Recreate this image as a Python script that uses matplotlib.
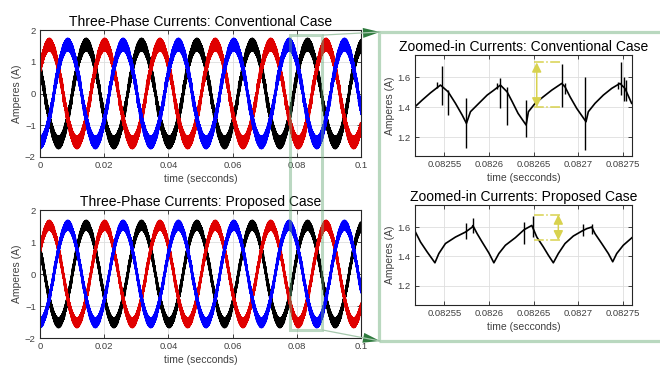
import numpy as np
import matplotlib
matplotlib.use('Agg')
import matplotlib.pyplot as plt
from matplotlib.patches import Rectangle, Polygon
from matplotlib.lines import Line2D
from matplotlib.ticker import FuncFormatter

plt.rcParams['font.family'] = ['Liberation Sans', 'DejaVu Sans']
plt.rcParams['path.simplify'] = False

f_line = 58.0            # Hz, peak spacing ~0.0172 s
t_peak_red = 0.0029      # first red peak
amp_conv = 1.50
amp_prop = 1.50
phase_colors = ['#000000', '#e00000', '#0000ff']
phase_lag = [2, 0, 1]    # thirds of a period behind red

# zoomed-in window, conventional case
conv_t = [0.082517, 0.0825251, 0.0825343, 0.0825455, 0.0825541, 0.0825623, 0.0825698, 0.0825746,
          0.0825791, 0.0825885, 0.0825978, 0.0826053, 0.0826126, 0.0826201, 0.0826257, 0.0826324,
          0.0826414, 0.082644, 0.0826515, 0.0826607, 0.0826701, 0.0826813, 0.082685, 0.0826906,
          0.0826981, 0.0827085, 0.0827111, 0.0827186, 0.0827279, 0.0827373, 0.0827465, 0.0827521,
          0.0827596]
conv_y = [1.404, 1.449, 1.497, 1.549, 1.504, 1.427, 1.349, 1.293,
          1.371, 1.427, 1.482, 1.515, 1.549, 1.504, 1.44, 1.36,
          1.282, 1.371, 1.427, 1.471, 1.515, 1.56, 1.537, 1.471,
          1.393, 1.304, 1.371, 1.427, 1.482, 1.527, 1.56, 1.527,
          1.427]
conv_spk_t = [0.0825418, 0.0825474, 0.0825541, 0.0825746, 0.082609, 0.0826126, 0.0826201, 0.0826414,
              0.0826813, 0.082685, 0.0827074, 0.0827446, 0.0827477, 0.0827508, 0.082753]
conv_spk_hi = [1.57, 1.675, 1.515, 1.46, 1.565, 1.593, 1.537, 1.45, 1.69, 1.56, 1.604, 1.57, 1.70, 1.60, 1.58]
conv_spk_lo = [1.527, 1.415, 1.35, 1.127, 1.52, 1.393, 1.282, 1.2, 1.40, 1.49, 1.115, 1.52, 1.48, 1.44, 1.44]

# zoomed-in window, proposed case
prop_t = [0.082517, 0.0825232, 0.0825306, 0.0825393, 0.0825437, 0.0825511, 0.0825623, 0.0825735,
          0.082581, 0.0825818, 0.0825866, 0.0825922, 0.0825997, 0.0826053, 0.0826109, 0.0826182,
          0.0826294, 0.0826392, 0.0826478, 0.0826534, 0.0826607, 0.0826663, 0.0826719, 0.0826775,
          0.082685, 0.0826943, 0.0827037, 0.0827093, 0.0827149, 0.0827186, 0.0827261, 0.0827335,
          0.0827384, 0.0827429, 0.0827502, 0.08276]
prop_y = [1.572, 1.498, 1.431, 1.357, 1.42, 1.488, 1.532, 1.566,
          1.599, 1.61, 1.555, 1.498, 1.424, 1.357, 1.42, 1.476,
          1.528, 1.582, 1.611, 1.532, 1.465, 1.409, 1.357, 1.42,
          1.488, 1.539, 1.572, 1.589, 1.6, 1.555, 1.488, 1.42,
          1.364, 1.42, 1.476, 1.528]
prop_spk_t = [0.0825746, 0.0825818, 0.0826395, 0.0826489, 0.0827055, 0.0827149]
prop_spk_hi = [1.626, 1.663, 1.633, 1.678, 1.622, 1.622]
prop_spk_lo = [1.521, 1.559, 1.488, 1.532, 1.537, 1.555]

# ripple measurement markers (yellow)
conv_mark = dict(t0=0.08265, t1=0.0826813, ta=0.0826533, hi=1.70, lo=1.40)
prop_mark = dict(t0=0.08265, t1=0.0826813, ta=0.0826775, hi=1.685, lo=1.51)

# highlighted region on the left panels
hl_t0, hl_t1 = 0.0778, 0.0880
hl_top, hl_bot = 1.84, -1.75


def ripple(t_pts, y_pts, sp_t, sp_hi, n):
    tau = np.linspace(t_pts[0], t_pts[-1], n, endpoint=False)
    base = np.interp(tau, t_pts, y_pts)
    r = base.copy()
    for ts, hi in zip(sp_t, sp_hi):
        k = min(np.searchsorted(tau, ts), n - 1)
        r[k] = hi
    return r - base.mean(), tau[1] - tau[0]


def three_phase(ax, amp, rip, dt):
    n = len(rip)
    N = int(0.1 / dt) + 1
    t = np.arange(N) * dt
    r = rip[np.arange(N) % n]
    for c, lag in zip(phase_colors, phase_lag):
        w = np.cos(2 * np.pi * f_line * (t - t_peak_red) - 2 * np.pi * lag / 3)
        ax.plot(t, amp * w + np.sign(w) * r, color=c, lw=0.9)


def style(ax):
    ax.tick_params(direction='in', top=True, right=True, length=3, width=0.6,
                   labelsize=6.8, colors='#262626', labelcolor='#404040', pad=3)
    ax.grid(True, color='#dedede', lw=0.6)
    ax.set_axisbelow(True)
    for s in ax.spines.values():
        s.set_color('#262626')
        s.set_linewidth(0.8)
    ax.xaxis.set_major_formatter(FuncFormatter(lambda v, p: f'{v:g}'))
    ax.set_xlabel('time (secconds)', fontsize=7.5, color='#404040', labelpad=3)
    ax.set_ylabel('Amperes (A)', fontsize=7.5, color='#404040', labelpad=2)


W, H = 660, 367
fig = plt.figure(figsize=(6.6, 3.67), dpi=100)
ax_c = fig.add_axes([40 / W, 1 - 157 / H, 321 / W, 127 / H])
ax_p = fig.add_axes([40 / W, 1 - 338 / H, 321 / W, 128 / H])
ax_zc = fig.add_axes([415 / W, 1 - 156 / H, 217 / W, 101 / H])
ax_zp = fig.add_axes([415 / W, 1 - 305 / H, 217 / W, 100 / H])

rc, dtc = ripple(conv_t, conv_y, conv_spk_t, conv_spk_hi, 150)
rp, dtp = ripple(prop_t, prop_y, prop_spk_t, prop_spk_hi, 150)
three_phase(ax_c, amp_conv, rc, dtc)
three_phase(ax_p, amp_prop, rp, dtp)

for ax, title in [(ax_c, 'Three-Phase Currents: Conventional Case'),
                  (ax_p, 'Three-Phase Currents: Proposed Case')]:
    style(ax)
    ax.set_xlim(0, 0.1)
    ax.set_ylim(-2, 2)
    ax.set_xticks([0, 0.02, 0.04, 0.06, 0.08, 0.1])
    ax.set_yticks([-2, -1, 0, 1, 2])
    ax.set_title(title, fontsize=10, pad=3)

zooms = [(ax_zc, conv_t, conv_y, conv_spk_t, conv_spk_hi, conv_spk_lo, conv_mark,
          'Zoomed-in Currents: Conventional Case', 1.075),
         (ax_zp, prop_t, prop_y, prop_spk_t, prop_spk_hi, prop_spk_lo, prop_mark,
          'Zoomed-in Currents: Proposed Case', 1.07)]
for ax, tt, yy, st, sh, sl, mk, title, ylo in zooms:
    ax.plot(tt, yy, color='k', lw=1.2)
    ax.vlines(st, sl, sh, color='k', lw=1.0)
    yel = '#d8d24e'
    ax.hlines([mk['hi'], mk['lo']], mk['t0'], mk['t1'], color=yel, lw=1.1, linestyles='-.')
    ax.annotate('', xy=(mk['ta'], mk['hi']), xytext=(mk['ta'], mk['lo']),
                arrowprops=dict(arrowstyle='<|-|>,head_length=0.7,head_width=0.35', color=yel,
                                lw=1.1, shrinkA=0, shrinkB=0, mutation_scale=8))
    style(ax)
    ax.set_xlim(0.082517, 0.08276)
    ax.set_ylim(ylo, 1.75)
    ax.set_xticks([0.08255, 0.0826, 0.08265, 0.0827, 0.08275])
    ax.set_yticks([1.2, 1.4, 1.6])
    ax.set_title(title, fontsize=10, pad=3)

# green frame around the zoomed panels
frame_col = '#b9d8bf'
fig.add_artist(Rectangle((379 / W, 1 - 341 / H), 400 / W, 309 / H, transform=fig.transFigure,
                         fill=False, ec=frame_col, lw=2.3, clip_on=False))

# highlight box spanning both left panels
inv = fig.transFigure.inverted()
p0 = inv.transform(ax_p.transData.transform((hl_t0, hl_bot)))
p1 = inv.transform(ax_c.transData.transform((hl_t1, hl_top)))
fig.add_artist(Rectangle(p0, p1[0] - p0[0], p1[1] - p0[1], transform=fig.transFigure,
                         fill=False, ec='#6aaa78', alpha=0.45, lw=2.2))

# connector lines with dark-green heads
head_col = '#2e7a3d'
for start, tip in [(ax_c.transData.transform((hl_t1, hl_top)), np.array([380.0, H - 32.0])),
                   (ax_p.transData.transform((hl_t1, hl_bot)), np.array([380.0, H - 341.0]))]:
    s = inv.transform(start)
    e = inv.transform(tip)
    fig.add_artist(Line2D([s[0], e[0]], [s[1], e[1]], transform=fig.transFigure,
                          color='#a6c8ad', lw=0.9))
    d = (tip - start) / np.hypot(*(tip - start))
    perp = np.array([-d[1], d[0]])
    base = tip - 17 * d
    pts = inv.transform(np.array([tip, base + 5 * perp, base - 5 * perp]))
    fig.add_artist(Polygon(pts, closed=True, transform=fig.transFigure, fc=head_col, ec='none'))

fig.savefig('out.png', dpi=100)
